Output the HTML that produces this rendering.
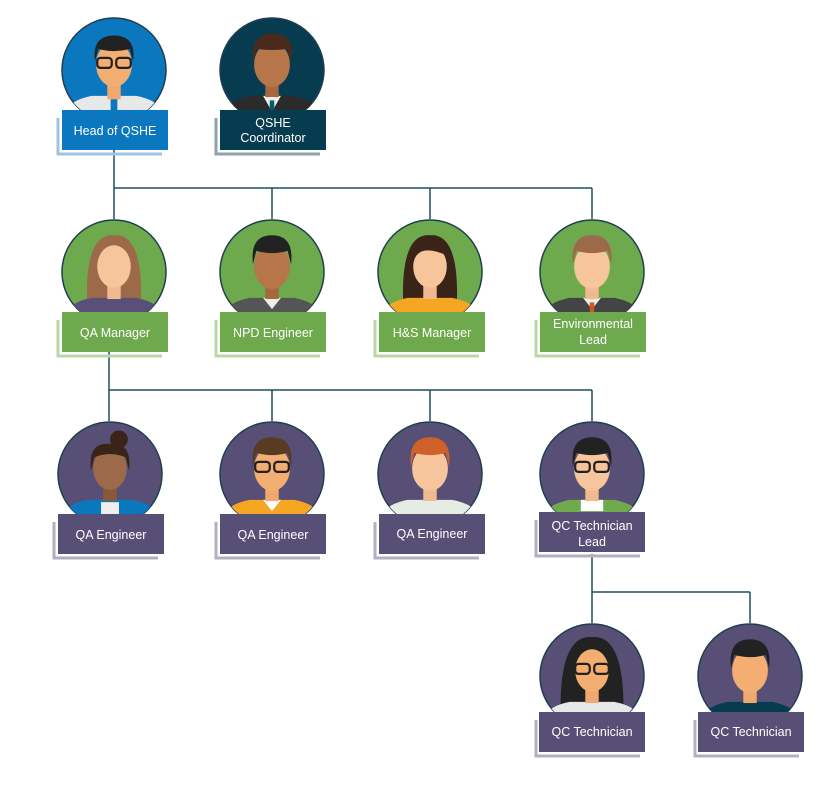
<!DOCTYPE html>
<html><head><meta charset="utf-8"><style>
body{margin:0;background:#fff;}
svg{display:block;font-family:"Liberation Sans",sans-serif;}
</style></head><body>
<svg width="832" height="785" viewBox="0 0 832 785" xmlns="http://www.w3.org/2000/svg">
<defs>
<clipPath id="c" clipPathUnits="userSpaceOnUse"><circle cx="0" cy="0" r="52"/></clipPath>
</defs>
<g stroke="#1f4e5f" stroke-width="1.5" fill="none">
<path d="M114 150V188M114 188H592M272 188V219M430 188V219M592 188V219M114 188V219"/>
<path d="M109 352V390M109 390H592M109 390V421M272 390V421M430 390V421M592 390V421"/>
<path d="M592 554V592M592 592H750M592 592V623M750 592V623"/>
</g>

<!-- Row1 -->
<g transform="translate(114,70)"><circle r="52" fill="#0a77bf" stroke="#1f3f4f" stroke-width="1.5"/><g clip-path="url(#c)"><g transform="translate(0,8) scale(1.12)">
<path d="M-42 52V30Q-40 20-20 16H20Q40 20 42 30V52Z" fill="#e6e8ea"/><rect x="-3" y="18" width="6" height="34" fill="#0a77bf"/>
<rect x="-6" y="5" width="12" height="14" fill="#f0a86e"/><ellipse cx="0" cy="-12" rx="16" ry="20" fill="#f4ae72"/>
<path d="M-17 -15Q-20 -38 0 -38Q20 -38 17 -15L14 -26Q0 -22 -14 -26Z" fill="#222"/>
<rect x="-15" y="-18" width="13" height="9" rx="3" fill="none" stroke="#222" stroke-width="2"/><rect x="2" y="-18" width="13" height="9" rx="3" fill="none" stroke="#222" stroke-width="2"/></g></g></g>
<g transform="translate(272,70)"><circle r="52" fill="#073c50" stroke="#1f3f4f" stroke-width="1.5"/><g clip-path="url(#c)"><g transform="translate(0,8) scale(1.12)">
<path d="M-42 52V30Q-40 20-20 16H20Q40 20 42 30V52Z" fill="#2b2b2b"/><path d="M-8 16L0 30L8 16Z" fill="#eee"/><rect x="-2" y="20" width="4" height="32" fill="#0a5a6a"/>
<rect x="-6" y="5" width="12" height="12" fill="#a8683e"/><ellipse cx="0" cy="-12" rx="16" ry="20" fill="#b7764a"/>
<path d="M-17 -14Q-20 -40 2 -40Q22 -38 17 -14L14 -26Q0 -24 -14 -26Z" fill="#4a2a1a"/></g></g></g>
<!-- Row2 -->
<g transform="translate(114,272)"><circle r="52" fill="#6ea94d" stroke="#1f3f4f" stroke-width="1.5"/><g clip-path="url(#c)"><g transform="translate(0,8) scale(1.12)">
<path d="M-24 20Q-26 -42 0 -40Q26 -42 24 20Z" fill="#9c6a48"/>
<path d="M-42 52V30Q-40 20-20 16H20Q40 20 42 30V52Z" fill="#5a4f78"/>
<rect x="-6" y="5" width="12" height="12" fill="#f0b98f"/><ellipse cx="0" cy="-12" rx="15" ry="19" fill="#f6c59b"/></g></g></g>
<g transform="translate(272,272)"><circle r="52" fill="#6ea94d" stroke="#1f3f4f" stroke-width="1.5"/><g clip-path="url(#c)"><g transform="translate(0,8) scale(1.12)">
<path d="M-42 52V30Q-40 20-20 16H20Q40 20 42 30V52Z" fill="#555"/><path d="M-8 16L0 26L8 16Z" fill="#eee"/>
<rect x="-6" y="5" width="12" height="12" fill="#a8683e"/><ellipse cx="0" cy="-12" rx="16" ry="20" fill="#b7764a"/>
<path d="M-17 -14Q-20 -40 0 -40Q20 -40 17 -14L14 -26Q0 -22 -14 -26Z" fill="#222"/></g></g></g>
<g transform="translate(430,272)"><circle r="52" fill="#6ea94d" stroke="#1f3f4f" stroke-width="1.5"/><g clip-path="url(#c)"><g transform="translate(0,8) scale(1.12)">
<path d="M-24 20Q-26 -42 0 -40Q26 -42 24 20Z" fill="#3a2418"/>
<path d="M-42 52V30Q-40 20-20 16H20Q40 20 42 30V52Z" fill="#f5a623"/>
<rect x="-6" y="5" width="12" height="12" fill="#f0b98f"/><ellipse cx="0" cy="-12" rx="15" ry="19" fill="#f6c59b"/>
<path d="M-15 -14Q-12 -34 15 -22L15 -30Q0 -40 -15 -28Z" fill="#3a2418"/></g></g></g>
<g transform="translate(592,272)"><circle r="52" fill="#6ea94d" stroke="#1f3f4f" stroke-width="1.5"/><g clip-path="url(#c)"><g transform="translate(0,8) scale(1.12)">
<path d="M-42 52V30Q-40 20-20 16H20Q40 20 42 30V52Z" fill="#444"/><path d="M-8 16L0 26L8 16Z" fill="#eee"/><rect x="-2" y="20" width="4" height="32" fill="#d0551f"/>
<rect x="-6" y="5" width="12" height="12" fill="#f0b98f"/><ellipse cx="0" cy="-12" rx="16" ry="20" fill="#f6c59b"/>
<path d="M-17 -14Q-20 -40 0 -40Q20 -40 17 -14L14 -26Q0 -22 -14 -26Z" fill="#9c6a48"/></g></g></g>
<!-- Row3 -->
<g transform="translate(110,474)"><circle r="52" fill="#584f76" stroke="#1f3f4f" stroke-width="1.5"/><g clip-path="url(#c)"><g transform="translate(0,8) scale(1.12)">
<circle cx="8" cy="-38" r="8" fill="#3a2418"/>
<path d="M-42 52V30Q-40 20-20 16H20Q40 20 42 30V52Z" fill="#0a77bf"/><rect x="-8" y="18" width="16" height="34" fill="#eee"/>
<rect x="-6" y="5" width="12" height="12" fill="#8a5a38"/><ellipse cx="0" cy="-12" rx="15" ry="19" fill="#9c6a48"/>
<path d="M-17 -10Q-20 -36 0 -34Q20 -36 17 -10L14 -22Q0 -28 -14 -22Z" fill="#3a2418"/></g></g></g>
<g transform="translate(272,474)"><circle r="52" fill="#584f76" stroke="#1f3f4f" stroke-width="1.5"/><g clip-path="url(#c)"><g transform="translate(0,8) scale(1.12)">
<path d="M-42 52V30Q-40 20-20 16H20Q40 20 42 30V52Z" fill="#f5a623"/><path d="M-8 16L0 26L8 16Z" fill="#fff"/>
<rect x="-6" y="5" width="12" height="12" fill="#f0a86e"/><ellipse cx="0" cy="-12" rx="16" ry="20" fill="#f4ae72"/>
<path d="M-17 -14Q-20 -40 0 -40Q20 -40 17 -14L14 -26Q0 -22 -14 -26Z" fill="#5a3a22"/>
<rect x="-15" y="-18" width="13" height="9" rx="3" fill="none" stroke="#222" stroke-width="2"/><rect x="2" y="-18" width="13" height="9" rx="3" fill="none" stroke="#222" stroke-width="2"/></g></g></g>
<g transform="translate(430,474)"><circle r="52" fill="#584f76" stroke="#1f3f4f" stroke-width="1.5"/><g clip-path="url(#c)"><g transform="translate(0,8) scale(1.12)">
<path d="M-42 52V30Q-40 20-20 16H20Q40 20 42 30V52Z" fill="#e6ece4"/>
<rect x="-6" y="5" width="12" height="12" fill="#f0b98f"/><ellipse cx="0" cy="-12" rx="16" ry="20" fill="#f6c59b"/>
<path d="M-17 -14Q-20 -40 0 -40Q20 -40 17 -14L14 -26Q0 -22 -14 -26Z" fill="#d0602a"/></g></g></g>
<g transform="translate(592,474)"><circle r="52" fill="#584f76" stroke="#1f3f4f" stroke-width="1.5"/><g clip-path="url(#c)"><g transform="translate(0,8) scale(1.12)">
<path d="M-42 52V30Q-40 20-20 16H20Q40 20 42 30V52Z" fill="#6ea94d"/><path d="M-10 16L-10 26H10V16Z" fill="#fff"/>
<rect x="-6" y="5" width="12" height="12" fill="#f0b98f"/><ellipse cx="0" cy="-12" rx="16" ry="20" fill="#f6c59b"/>
<path d="M-17 -14Q-20 -40 0 -40Q20 -40 17 -14L14 -26Q0 -22 -14 -26Z" fill="#222"/>
<rect x="-15" y="-18" width="13" height="9" rx="3" fill="none" stroke="#222" stroke-width="2"/><rect x="2" y="-18" width="13" height="9" rx="3" fill="none" stroke="#222" stroke-width="2"/></g></g></g>
<!-- Row4 -->
<g transform="translate(592,676)"><circle r="52" fill="#584f76" stroke="#1f3f4f" stroke-width="1.5"/><g clip-path="url(#c)"><g transform="translate(0,8) scale(1.12)">
<path d="M-28 30Q-30 -44 0 -42Q30 -44 28 30Z" fill="#222"/>
<path d="M-42 52V30Q-40 20-20 16H20Q40 20 42 30V52Z" fill="#e6e8ea"/>
<rect x="-6" y="5" width="12" height="12" fill="#f0a86e"/><ellipse cx="0" cy="-12" rx="15" ry="19" fill="#f4ae72"/>
<rect x="-15" y="-18" width="13" height="9" rx="3" fill="none" stroke="#222" stroke-width="2"/><rect x="2" y="-18" width="13" height="9" rx="3" fill="none" stroke="#222" stroke-width="2"/></g></g></g>
<g transform="translate(750,676)"><circle r="52" fill="#584f76" stroke="#1f3f4f" stroke-width="1.5"/><g clip-path="url(#c)"><g transform="translate(0,8) scale(1.12)">
<path d="M-42 52V30Q-40 20-20 16H20Q40 20 42 30V52Z" fill="#073c50"/>
<rect x="-6" y="5" width="12" height="12" fill="#f0a86e"/><ellipse cx="0" cy="-12" rx="16" ry="20" fill="#f4ae72"/>
<path d="M-17 -14Q-20 -40 0 -40Q20 -40 17 -14L14 -26Q0 -22 -14 -26Z" fill="#222"/></g></g></g>

<g font-size="12.5" fill="#fff" text-anchor="middle">
<path d="M58 118V154H162" fill="none" stroke="#9fc3de" stroke-width="3"/><rect x="62" y="110" width="106" height="40" fill="#0a77bf"/><text x="115" y="135">Head of QSHE</text>
<path d="M216 118V154H320" fill="none" stroke="#8ea3ad" stroke-width="3"/><rect x="220" y="110" width="106" height="40" fill="#073c50"/><text x="273" y="127">QSHE</text><text x="273" y="142">Coordinator</text>

<path d="M58 320V356H162" fill="none" stroke="#b8d7a8" stroke-width="3"/><rect x="62" y="312" width="106" height="40" fill="#6ea94d"/><text x="115" y="337">QA Manager</text>
<path d="M216 320V356H320" fill="none" stroke="#b8d7a8" stroke-width="3"/><rect x="220" y="312" width="106" height="40" fill="#6ea94d"/><text x="273" y="337">NPD Engineer</text>
<path d="M375 320V356H479" fill="none" stroke="#b8d7a8" stroke-width="3"/><rect x="379" y="312" width="106" height="40" fill="#6ea94d"/><text x="432" y="337">H&amp;S Manager</text>
<path d="M536 320V356H640" fill="none" stroke="#b8d7a8" stroke-width="3"/><rect x="540" y="312" width="106" height="40" fill="#6ea94d"/><text x="593" y="328">Environmental</text><text x="593" y="344">Lead</text>

<path d="M54 522V558H158" fill="none" stroke="#b3afc2" stroke-width="3"/><rect x="58" y="514" width="106" height="40" fill="#584f76"/><text x="111" y="539">QA Engineer</text>
<path d="M216 522V558H320" fill="none" stroke="#b3afc2" stroke-width="3"/><rect x="220" y="514" width="106" height="40" fill="#584f76"/><text x="273" y="539">QA Engineer</text>
<path d="M375 522V558H479" fill="none" stroke="#b3afc2" stroke-width="3"/><rect x="379" y="514" width="106" height="40" fill="#584f76"/><text x="432" y="538">QA Engineer</text>
<path d="M536 520V556H640" fill="none" stroke="#b3afc2" stroke-width="3"/><rect x="539" y="512" width="106" height="40" fill="#584f76"/><text x="592" y="530">QC Technician</text><text x="592" y="546">Lead</text>

<path d="M536 720V756H640" fill="none" stroke="#b3afc2" stroke-width="3"/><rect x="539" y="712" width="106" height="40" fill="#584f76"/><text x="592" y="736">QC Technician</text>
<path d="M695 720V756H799" fill="none" stroke="#b3afc2" stroke-width="3"/><rect x="698" y="712" width="106" height="40" fill="#584f76"/><text x="751" y="736">QC Technician</text>
</g>
</svg>
</body></html>
